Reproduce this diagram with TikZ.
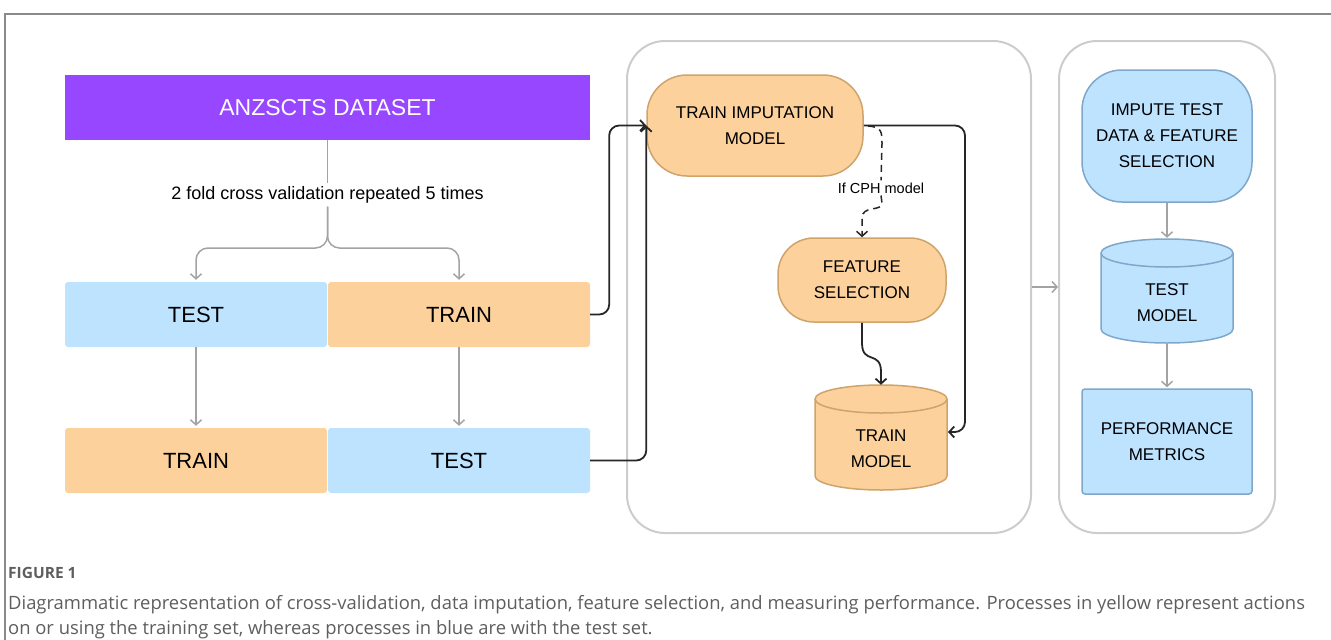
\documentclass[tikz,border=0pt]{standalone}
\usepackage{fontspec}
\setmainfont{Liberation Sans}
\newfontfamily\capfont{Open Sans}
\usetikzlibrary{arrows.meta,calc}

\definecolor{anzpurple}{HTML}{9747FF}
\definecolor{trainfill}{HTML}{FCD19C}
\definecolor{testfill}{HTML}{BDE3FF}
\definecolor{trainedge}{HTML}{CFA36B}
\definecolor{testedge}{HTML}{7FA7C9}
\definecolor{panelgray}{HTML}{CCCCCC}
\definecolor{arrowgray}{HTML}{A3A3A3}
\definecolor{framegray}{HTML}{8A8A8A}
\definecolor{capgray}{HTML}{5E5E5E}

\tikzset{
  flatbox/.style={rectangle, rounded corners=3pt, minimum width=262pt, minimum height=65pt,
    font=\fontsize{22}{26}\selectfont, inner sep=0pt},
  trainflat/.style={flatbox, fill=trainfill},
  testflat/.style={flatbox, fill=testfill},
  procbox/.style={rectangle, align=center, font=\fontsize{17}{26}\selectfont, inner sep=0pt, line width=1.5pt},
  traincyl/.style={fill=trainfill, draw=trainedge, line width=1.5pt},
  testcyl/.style={fill=testfill, draw=testedge, line width=1.5pt},
  cyltext/.style={align=center, font=\fontsize{17}{26}\selectfont, inner sep=0pt},
  grayarrow/.style={draw=arrowgray, line width=1.5pt, -{Straight Barb[length=5pt,width=11pt]}},
  blackarrow/.style={draw=black!85, line width=1.8pt, -{Straight Barb[length=5pt,width=11pt]}, rounded corners=10pt},
  dashline/.style={draw=black!85, line width=1.5pt, dash pattern=on 7pt off 5pt},
  panel/.style={draw=panelgray, line width=2pt, rounded corners=38pt, inner sep=0pt},
  captext/.style={anchor=base west, inner sep=0pt, text=capgray, font=\capfont\fontsize{18.4}{22}\selectfont},
}

\begin{document}
\begin{tikzpicture}[x=1pt, y=1pt]
\useasboundingbox (0,0) rectangle (1331,-640);

% page frame
\draw[framegray, line width=1.5pt] (5,-640) -- (5,-14) -- (1331,-14);

% dataset and cross-validation split
\node[fill=anzpurple, minimum width=525pt, minimum height=65pt, inner sep=0pt, text=white,
      font=\fontsize{23}{26}\selectfont] (anz) at (327.5,-107.5) {ANZSCTS DATASET};
\node[font=\fontsize{18}{20}\selectfont, fill=white, inner sep=3pt] (cv) at (327.5,-195)
      {2 fold cross validation repeated 5 times};

\node[testflat]  (test1)  at (196,-314.5) {TEST};
\node[trainflat] (train1) at (459,-314.5) {TRAIN};
\node[trainflat] (train2) at (196,-460.5) {TRAIN};
\node[testflat]  (test2)  at (459,-460.5) {TEST};

\draw[arrowgray, line width=1.5pt] (anz.south) -- (cv.north);
\draw[grayarrow, rounded corners=12pt, shorten >=2pt] (cv.south) -- (327.5,-248) -| (test1.north);
\draw[grayarrow, rounded corners=12pt, shorten >=2pt] (cv.south) -- (327.5,-248) -| (train1.north);
\draw[grayarrow, shorten >=2pt] (test1.south) -- (train2.north);
\draw[grayarrow, shorten >=2pt] (train1.south) -- (test2.north);

% panels
\node[panel, minimum width=404pt, minimum height=492pt] (pan1) at (829,-287) {};
\node[panel, minimum width=216pt, minimum height=492pt] (pan2) at (1167,-287) {};
\draw[grayarrow] (pan1.east) -- (pan2.west);

% training side
\node[procbox, fill=trainfill, draw=trainedge, rounded corners=40pt, minimum width=216pt,
      minimum height=101pt] (imp) at (755,-125.5) {TRAIN IMPUTATION\\MODEL};
\node[procbox, fill=trainfill, draw=trainedge, rounded corners=36pt, minimum width=168pt,
      minimum height=84pt] (feat) at (862,-280) {FEATURE\\SELECTION};

\node[minimum width=132pt, minimum height=105pt, inner sep=0pt] (tmodel) at (881,-437.5) {};
\draw[traincyl] (815,-399) -- (815,-476) arc[start angle=180, end angle=360, x radius=66, y radius=14]
  -- (947,-399) arc[start angle=0, end angle=180, x radius=66, y radius=14] -- cycle;
\draw[traincyl, fill=none] (815,-399) arc[start angle=180, end angle=360, x radius=66, y radius=14];
\node[cyltext] (tmodeltxt) at (881,-449) {TRAIN\\MODEL};
\coordinate (tmin) at (948,-432);

% test side
\node[procbox, fill=testfill, draw=testedge, rounded corners=40pt, minimum width=170pt,
      minimum height=132pt] (impute) at (1167,-136) {IMPUTE TEST\\DATA \& FEATURE\\SELECTION};
\node[minimum width=132pt, minimum height=104pt, inner sep=0pt] (smodel) at (1167,-291) {};
\draw[testcyl] (1101,-253) -- (1101,-329) arc[start angle=180, end angle=360, x radius=66, y radius=14]
  -- (1233,-253) arc[start angle=0, end angle=180, x radius=66, y radius=14] -- cycle;
\draw[testcyl, fill=none] (1101,-253) arc[start angle=180, end angle=360, x radius=66, y radius=14];
\node[cyltext] (smodeltxt) at (1167,-303) {TEST\\MODEL};
\node[procbox, fill=testfill, draw=testedge, rounded corners=3pt, minimum width=170pt,
      minimum height=105pt] (perf) at (1167,-441.5) {PERFORMANCE\\METRICS};

\draw[grayarrow, shorten >=1pt] (impute.south) -- (smodel.north);
\draw[grayarrow, shorten >=1pt] (smodel.south) -- (perf.north);

% data flow into the imputation model
\draw[blackarrow] (train1.east) -- ++(19,0) |- (imp.west);
\draw[blackarrow] (test2.east) -| (imp.west);

% imputation model onwards
\draw[blackarrow] (imp.east) -- (965,-125.5) |- (tmin);
\node[font=\fontsize{14.5}{16}\selectfont, inner sep=2pt] (cph) at (881,-188) {If CPH model};
\coordinate (dstart) at (868,-126);
\draw[dashline] (dstart) .. controls (882,-127) and (882,-132) .. (882,-144) -- (cph.north);
\draw[dashline, -{Straight Barb[length=5pt,width=11pt]}] (cph.south) -- (882,-203)
  .. controls (882,-212) and (862,-205) .. (862,-218) -- (feat.north);
\draw[draw=black!85, line width=1.8pt, -{Straight Barb[length=5pt,width=11pt]}] (feat.south) -- (862,-343)
  .. controls (862,-365) and (881,-350) .. (881,-372) -- (tmodel.north);

% caption
\node[captext, font=\capfont\bfseries\fontsize{15.5}{18}\selectfont] (fig) at (8,-578) {FIGURE 1};
\node[captext] (cap1) at (8,-609) {Diagrammatic representation of cross-validation, data imputation, feature selection, and measuring performance. Processes in yellow represent actions};
\node[captext] (cap2) at (8,-634) {on or using the training set, whereas processes in blue are with the test set.};
\end{tikzpicture}
\end{document}
